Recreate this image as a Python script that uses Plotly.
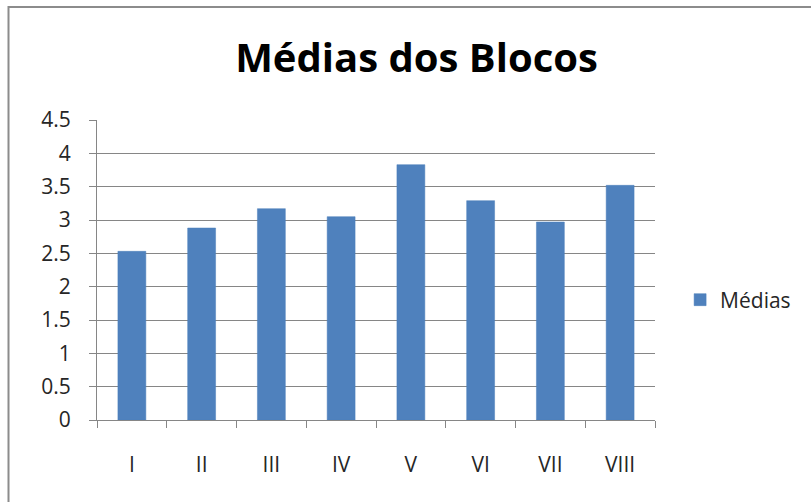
import plotly.graph_objects as go

blocos = ["I", "II", "III", "IV", "V", "VI", "VII", "VIII"]
medias = [2.53, 2.88, 3.17, 3.05, 3.83, 3.29, 2.97, 3.52]

fig = go.Figure(
    go.Bar(
        x=blocos,
        y=medias,
        name="Médias",
        marker=dict(color="#4f81bd", line=dict(color="#4a7ebb", width=0.5)),
        showlegend=True,
    )
)

fig.update_layout(
    width=811,
    height=502,
    paper_bgcolor="white",
    plot_bgcolor="white",
    font=dict(family="Open Sans, sans-serif", color="#262626"),
    title=dict(
        text="<b>Médias dos Blocos</b>",
        xref="paper",
        x=0.5726,
        xanchor="center",
        y=0.885,
        yanchor="middle",
        font=dict(size=40, color="black"),
    ),
    margin=dict(l=97, r=156, t=120, b=82, autoexpand=False),
    bargap=0.6,
    legend=dict(
        x=1.045,
        y=0.4,
        xanchor="left",
        yanchor="middle",
        font=dict(size=21, color="#262626"),
    ),
    shapes=[
        dict(
            type="rect", xref="paper", yref="paper",
            x0=-0.1586, x1=1.5, y0=-0.5, y1=1.3767,
            line=dict(color="#8c8c8c", width=2),
        )
    ],
)

fig.update_xaxes(
    showline=True,
    linecolor="#868686",
    ticks="outside",
    tickson="boundaries",
    ticklen=7,
    tickcolor="#868686",
    tickfont=dict(size=21),
    ticklabelstandoff=26,
    showgrid=False,
)
fig.update_yaxes(
    range=[0, 4.5],
    dtick=0.5,
    showline=True,
    linecolor="#868686",
    ticks="outside",
    ticklen=7,
    tickcolor="#868686",
    gridcolor="#868686",
    gridwidth=1,
    tickfont=dict(size=21),
    ticklabelstandoff=14,
    zeroline=False,
)

fig.write_html(
    "out.html",
    config={"displayModeBar": False},
    post_script="document.body.style.margin='0';",
)
